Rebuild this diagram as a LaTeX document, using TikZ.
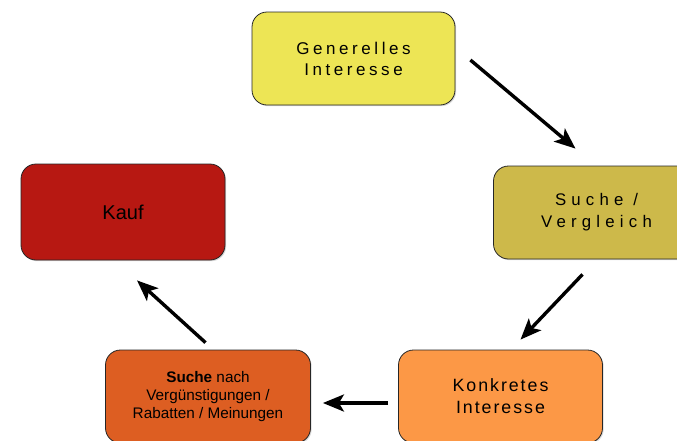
\documentclass[tikz,border=0pt]{standalone}
\usepackage{fontspec}
\setmainfont{Liberation Sans}
\newfontfamily\trackgen[LetterSpace=21]{Liberation Sans}
\newfontfamily\trackverg[LetterSpace=31]{Liberation Sans}
\newfontfamily\trackkonk[LetterSpace=11]{Liberation Sans}
\usetikzlibrary{arrows.meta,positioning,shadows}
\definecolor{genfill}{RGB}{237,229,85}
\definecolor{vergfill}{RGB}{205,185,74}
\definecolor{kauffill}{RGB}{183,24,18}
\definecolor{rabfill}{RGB}{221,94,34}
\definecolor{konkfill}{RGB}{252,152,70}
\tikzstyle{stage}=[draw=black!85, line width=0.8pt, rounded corners=15pt, minimum width=203pt, minimum height=93pt, align=center, drop shadow={shadow xshift=1.2pt, shadow yshift=-1.2pt, opacity=0.3}]
\tikzstyle{general}=[stage, fill=genfill, font=\fontsize{17}{21}\trackgen]
\tikzstyle{compare}=[stage, fill=vergfill, minimum width=206pt, font=\fontsize{16.8}{22}\trackverg]
\tikzstyle{purchase}=[stage, fill=kauffill, minimum width=204pt, minimum height=96pt, font=\fontsize{20}{24}\selectfont]
\tikzstyle{discount}=[stage, fill=rabfill, minimum width=205pt, font=\fontsize{15.3}{18}\selectfont]
\tikzstyle{concrete}=[stage, fill=konkfill, minimum width=204pt, font=\fontsize{17.8}{22}\trackkonk]
\tikzset{%
    flow/.style={-{Stealth[length=21pt,width=17pt,inset=5pt]}, line width=3.4pt, black},
  }
\begin{document}
\begin{tikzpicture}
    \useasboundingbox (0,0) rectangle (677pt,-440pt);
    \node (gen) [general] at (353.5pt,-58.5pt) {Generelles\\Interesse};
    \node (verg) [compare, right of=gen, node distance=243pt, yshift=-154pt] {Suche /\\Vergleich};
    \node (kauf) [purchase, left of=gen, node distance=230.5pt, yshift=-153.5pt] {Kauf};
    \node (konk) [concrete, below of=verg, node distance=184pt, xshift=-96pt] {Konkretes\\Interesse};
    \node (rab) [discount, left of=konk, node distance=292.5pt] {\textbf{Suche} nach\\Vergünstigungen /\\Rabatten / Meinungen};
    %
    \draw [flow] ([xshift=15pt,yshift=-1.5pt]gen.east) -- ([xshift=-21pt,yshift=17pt]verg.north);
    \draw [flow] ([xshift=-14pt,yshift=-15pt]verg.south) -- ([xshift=20pt,yshift=10pt]konk.north);
    \draw [flow] ([xshift=-10pt,yshift=-6.5pt]konk.west) -- ([xshift=12pt,yshift=-6.5pt]rab.east);
    \draw [flow] ([xshift=-2.5pt,yshift=7pt]rab.north) -- ([xshift=14pt,yshift=-20pt]kauf.south);
\end{tikzpicture}
\end{document}
